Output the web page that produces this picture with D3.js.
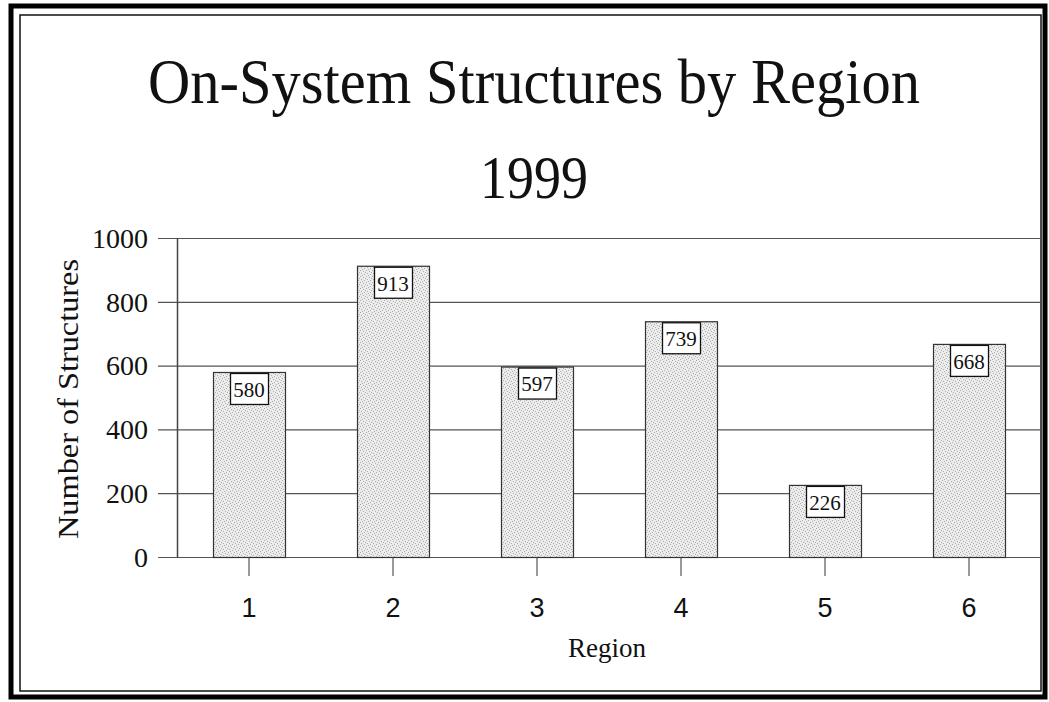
<!DOCTYPE html>
<html>
<head>
<meta charset="utf-8">
<script src="https://cdn.jsdelivr.net/npm/d3@7"></script>
<style>
  html, body { margin: 0; padding: 0; background: #fff; }
  svg { display: block; }
</style>
</head>
<body>
<svg id="chart" width="1049" height="702"></svg>
<script>
// Bridge counts per region, 1999
const regions = ["1", "2", "3", "4", "5", "6"];
const structures = [580, 913, 597, 739, 226, 668];
const yTicks = [0, 200, 400, 600, 800, 1000];

const titleText = "On-System Structures by Region";
const subtitleText = "1999";
const xTitle = "Region";
const yTitle = "Number of Structures";

const svg = d3.select("#chart");
const plot = { left: 177, right: 1041, top: 238, bottom: 557 };
const serif = "'Liberation Serif', 'Times New Roman', serif";

// Stippled grey fill for the bars
const defs = svg.append("defs");
const pat = defs.append("pattern")
  .attr("id", "stipple")
  .attr("patternUnits", "userSpaceOnUse")
  .attr("width", 6).attr("height", 6);
pat.append("rect").attr("width", 6).attr("height", 6).attr("fill", "#ececec");
const dots = [[0,0],[3,1],[1,3],[4,4],[2,5],[5,2]];
pat.selectAll("rect.d").data(dots).join("rect")
  .attr("class", "d")
  .attr("x", d => d[0]).attr("y", d => d[1])
  .attr("width", 1).attr("height", 1)
  .attr("fill", "#adadad");

// Page frame: heavy outer rule and thin inner rule
svg.append("rect")
  .attr("x", 11).attr("y", 6)
  .attr("width", 1045 - 11).attr("height", 697 - 6)
  .attr("fill", "none").attr("stroke", "#000").attr("stroke-width", 5);
svg.append("rect")
  .attr("x", 20).attr("y", 15)
  .attr("width", 1041 - 20).attr("height", 691 - 15)
  .attr("fill", "none").attr("stroke", "#111").attr("stroke-width", 1.5);

const x = d3.scaleBand()
  .domain(regions)
  .range([plot.left, plot.right])
  .paddingInner(0.5)
  .paddingOuter(0.25);

const y = d3.scaleLinear()
  .domain([0, 1000])
  .range([plot.bottom, plot.top]);

// Horizontal gridlines extending left as tick marks
svg.append("g")
  .selectAll("line")
  .data(yTicks)
  .join("line")
  .attr("x1", plot.left - 19).attr("x2", plot.right - 1)
  .attr("y1", d => y(d) + 0.5).attr("y2", d => y(d) + 0.5)
  .attr("stroke", "#555").attr("stroke-width", 1.2);

// Y axis labels
const yAxis = d3.axisLeft(y).tickValues(yTicks).tickFormat(d3.format("d"))
  .tickSize(0).tickPadding(0);
const yg = svg.append("g")
  .attr("transform", `translate(${plot.left - 29},0)`)
  .call(yAxis);
yg.select(".domain").remove();
yg.selectAll("text")
  .attr("font-family", serif)
  .attr("font-size", 28)
  .attr("fill", "#111")
  .attr("dy", "0.33em");

// Vertical axis line
svg.append("line")
  .attr("x1", plot.left + 0.5).attr("x2", plot.left + 0.5)
  .attr("y1", plot.top).attr("y2", plot.bottom + 1)
  .attr("stroke", "#444").attr("stroke-width", 1.5);

// X axis tick marks and labels
const xAxis = d3.axisBottom(x).tickSize(19).tickPadding(22);
const xg = svg.append("g")
  .attr("transform", `translate(0,${plot.bottom})`)
  .call(xAxis);
xg.select(".domain").remove();
xg.selectAll(".tick line").attr("stroke", "#555").attr("stroke-width", 1.2);
xg.selectAll("text")
  .attr("font-family", "'Liberation Sans', Arial, sans-serif")
  .attr("font-size", 27)
  .attr("fill", "#111");

// Bars
svg.append("g")
  .selectAll("rect")
  .data(structures)
  .join("rect")
  .attr("x", (d, i) => x(regions[i]) + 0.5)
  .attr("y", d => y(d) + 0.5)
  .attr("width", x.bandwidth())
  .attr("height", d => y(0) - y(d))
  .attr("fill", "url(#stipple)")
  .attr("stroke", "#333")
  .attr("stroke-width", 1.2);

// Value labels in boxed callouts at the top of each bar
const boxW = 38, boxH = 31;
const lbl = svg.append("g")
  .selectAll("g")
  .data(structures)
  .join("g")
  .attr("transform", (d, i) =>
    `translate(${x(regions[i]) + x.bandwidth() / 2},${y(d) + 1})`);
lbl.append("rect")
  .attr("x", -boxW / 2 + 0.5).attr("y", 0.5)
  .attr("width", boxW).attr("height", boxH)
  .attr("fill", "#fff").attr("stroke", "#111").attr("stroke-width", 1.3);
lbl.append("text")
  .attr("x", 0).attr("y", boxH / 2 + 1)
  .attr("dy", "0.35em")
  .attr("text-anchor", "middle")
  .attr("font-family", serif)
  .attr("font-size", 21)
  .attr("fill", "#111")
  .text(d => d);

// Titles
svg.append("text")
  .attr("x", 534).attr("y", 103)
  .attr("text-anchor", "middle")
  .attr("font-family", serif)
  .attr("font-size", 64)
  .attr("textLength", 772)
  .attr("lengthAdjust", "spacingAndGlyphs")
  .attr("fill", "#111")
  .text(titleText);
svg.append("text")
  .attr("x", 534).attr("y", 198)
  .attr("text-anchor", "middle")
  .attr("font-family", serif)
  .attr("font-size", 61)
  .attr("textLength", 108)
  .attr("lengthAdjust", "spacingAndGlyphs")
  .attr("fill", "#111")
  .text(subtitleText);

svg.append("text")
  .attr("x", 607).attr("y", 657)
  .attr("text-anchor", "middle")
  .attr("font-family", serif)
  .attr("font-size", 27)
  .attr("fill", "#111")
  .text(xTitle);

svg.append("text")
  .attr("transform", "translate(78,399) rotate(-90)")
  .attr("text-anchor", "middle")
  .attr("font-family", serif)
  .attr("font-size", 30)
  .attr("textLength", 280)
  .attr("lengthAdjust", "spacingAndGlyphs")
  .attr("fill", "#111")
  .text(yTitle);
</script>
</body>
</html>
